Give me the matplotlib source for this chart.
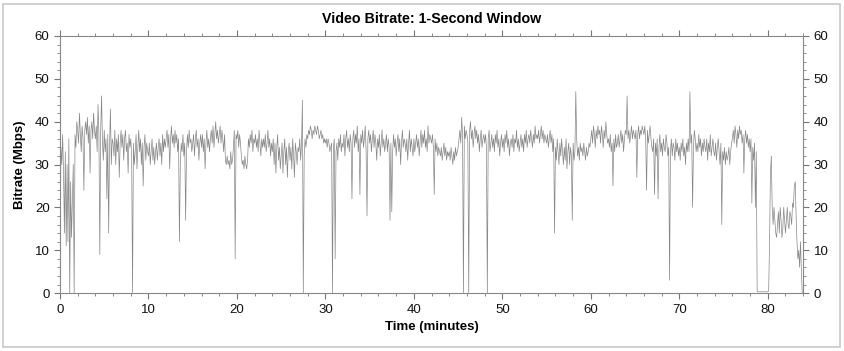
import numpy as np
import matplotlib.pyplot as plt
from matplotlib.patches import Rectangle
from matplotlib.ticker import MultipleLocator

plt.rcParams['font.family'] = ['Liberation Sans', 'DejaVu Sans']

# bitrate (Mbps), one row per minute, 0.1 min steps
bitrate_rows = [
    [2, 34, 30, 37, 28, 14, 33, 11, 30, 12],
    [36, 0, 26, 13, 22, 30, 0, 37, 34, 40],
    [38, 35, 42, 37, 33, 39, 36, 24, 38, 40],
    [37, 41, 35, 39, 28, 38, 40, 36, 42, 38],
    [36, 39, 33, 44, 37, 9, 38, 46, 35, 31],
    [38, 33, 36, 22, 37, 14, 34, 43, 30, 36],
    [35, 32, 38, 30, 36, 33, 37, 27, 35, 38],
    [34, 37, 31, 36, 38, 33, 35, 28, 37, 34],
    [36, 32, 0, 35, 30, 33, 37, 29, 34, 38],
    [33, 36, 30, 35, 25, 34, 37, 31, 35, 33],
    [32, 35, 30, 33, 36, 31, 34, 30, 33, 35],
    [31, 34, 36, 32, 35, 30, 37, 33, 36, 34],
    [36, 38, 34, 37, 29, 36, 39, 35, 37, 34],
    [38, 35, 37, 33, 36, 12, 30, 35, 33, 37],
    [32, 35, 17, 33, 37, 34, 38, 35, 36, 33],
    [35, 37, 32, 36, 38, 34, 36, 31, 35, 37],
    [34, 37, 33, 36, 29, 35, 38, 34, 36, 33],
    [36, 38, 35, 39, 34, 37, 40, 36, 38, 35],
    [37, 39, 35, 38, 36, 33, 37, 31, 30, 32],
    [30, 31, 29, 33, 30, 31, 34, 38, 8, 37],
    [36, 38, 34, 37, 35, 32, 30, 31, 29, 32],
    [30, 29, 31, 36, 34, 37, 35, 38, 33, 36],
    [35, 37, 34, 36, 33, 38, 35, 32, 36, 34],
    [36, 34, 37, 33, 35, 38, 34, 36, 32, 35],
    [33, 36, 30, 35, 28, 34, 37, 31, 34, 29],
    [32, 35, 28, 33, 36, 30, 34, 27, 33, 35],
    [31, 34, 29, 36, 32, 27, 35, 33, 30, 34],
    [33, 36, 31, 35, 45, 0, 32, 36, 34, 37],
    [36, 38, 37, 39, 38, 36, 38, 37, 39, 38],
    [37, 39, 38, 36, 37, 38, 36, 37, 35, 36],
    [35, 36, 34, 36, 35, 33, 34, 35, 0, 34],
    [36, 8, 33, 35, 31, 36, 34, 37, 33, 35],
    [34, 37, 32, 36, 38, 34, 36, 33, 37, 35],
    [22, 36, 38, 34, 37, 35, 39, 33, 36, 23],
    [37, 35, 38, 34, 36, 39, 33, 18, 36, 38],
    [35, 37, 33, 36, 38, 34, 37, 35, 31, 36],
    [34, 37, 32, 35, 38, 34, 36, 33, 35, 37],
    [33, 36, 34, 17, 35, 19, 33, 37, 34, 36],
    [32, 35, 37, 33, 36, 30, 35, 38, 34, 36],
    [35, 33, 36, 31, 35, 38, 33, 36, 34, 32],
    [36, 33, 35, 37, 34, 36, 32, 35, 38, 34],
    [37, 35, 38, 34, 36, 33, 39, 35, 37, 36],
    [35, 37, 34, 23, 36, 33, 35, 32, 34, 33],
    [32, 34, 31, 33, 35, 32, 34, 31, 33, 32],
    [33, 31, 34, 32, 30, 33, 31, 34, 32, 33],
    [34, 36, 38, 35, 41, 37, 0, 39, 36, 38],
    [37, 35, 0, 38, 40, 36, 38, 34, 37, 39],
    [36, 38, 35, 37, 33, 36, 38, 34, 36, 37],
    [35, 37, 34, 0, 36, 38, 33, 35, 37, 34],
    [36, 33, 37, 35, 38, 34, 36, 32, 35, 37],
    [34, 36, 33, 37, 35, 38, 34, 36, 32, 35],
    [36, 34, 37, 33, 36, 35, 38, 34, 36, 33],
    [35, 37, 34, 36, 33, 37, 35, 38, 34, 36],
    [37, 35, 38, 36, 34, 37, 35, 39, 36, 37],
    [36, 38, 35, 37, 39, 36, 38, 35, 37, 36],
    [35, 37, 34, 36, 38, 35, 37, 33, 36, 14],
    [34, 31, 36, 33, 30, 35, 32, 36, 33, 30],
    [34, 31, 36, 29, 33, 35, 30, 34, 32, 17],
    [35, 31, 33, 47, 36, 32, 34, 31, 35, 33],
    [34, 32, 35, 33, 31, 34, 32, 33, 35, 34],
    [36, 38, 35, 39, 37, 34, 38, 36, 39, 37],
    [38, 35, 39, 37, 34, 38, 36, 40, 37, 35],
    [36, 34, 37, 33, 35, 25, 36, 33, 37, 34],
    [35, 37, 34, 36, 38, 35, 37, 33, 36, 38],
    [37, 46, 36, 38, 35, 37, 39, 36, 38, 37],
    [36, 38, 27, 37, 39, 36, 38, 37, 39, 38],
    [37, 39, 36, 24, 38, 35, 37, 39, 36, 34],
    [33, 36, 23, 35, 32, 36, 22, 34, 37, 33],
    [35, 32, 36, 34, 33, 37, 35, 32, 34, 3],
    [33, 36, 32, 35, 34, 31, 36, 33, 35, 32],
    [34, 31, 35, 33, 36, 32, 34, 30, 35, 33],
    [36, 33, 47, 35, 37, 20, 34, 38, 36, 33],
    [35, 33, 37, 34, 36, 32, 35, 33, 36, 34],
    [33, 36, 31, 35, 33, 37, 32, 34, 36, 33],
    [32, 35, 31, 34, 36, 33, 30, 35, 16, 33],
    [31, 34, 30, 33, 31, 32, 34, 30, 33, 35],
    [36, 38, 35, 39, 37, 34, 38, 36, 39, 37],
    [38, 35, 37, 28, 36, 38, 35, 37, 34, 36],
    [33, 36, 21, 34, 31, 35, 20, 33, 0.3, 0.3],
    [0.3, 0.3, 0.3, 0.3, 0.3, 0.3, 0.3, 0.3, 0.3, 0.3],
    [0.3, 0.5, 12, 28, 32, 20, 16, 20, 17, 14],
    [13, 16, 19, 14, 20, 17, 13, 15, 20, 17],
    [14, 17, 20, 16, 15, 19, 18, 16, 21, 20],
    [25, 26, 18, 12, 8, 10, 6, 12, 5, 0],
]

bitrate = np.array(bitrate_rows, dtype=float).ravel()
minutes = np.arange(len(bitrate)) * 0.1

fig = plt.figure(figsize=(8.45, 3.51), dpi=100)
ax = fig.add_axes([0.071, 0.165, 0.8795, 0.7325])

ax.plot(minutes, bitrate, color='#878787', lw=0.5)

ax.set_xlim(0, 84)
ax.set_ylim(0, 60)
ax.xaxis.set_major_locator(MultipleLocator(10))
ax.xaxis.set_minor_locator(MultipleLocator(2))
ax.yaxis.set_major_locator(MultipleLocator(10))
ax.yaxis.set_minor_locator(MultipleLocator(2))
ax.tick_params(which='both', direction='out', colors='#777777', labelcolor='#111111',
               top=True, right=True, labelright=True, labelsize=9.5)
ax.tick_params(which='major', length=4, width=0.8)
ax.tick_params(which='minor', length=2.5, width=0.6)
for sp in ax.spines.values():
    sp.set_color('#888888')
    sp.set_linewidth(0.8)

ax.set_title('Video Bitrate: 1-Second Window', fontsize=10.3, fontweight='bold', pad=9)
ax.set_xlabel('Time (minutes)', fontsize=9.5, fontweight='bold', labelpad=4)
ax.set_ylabel('Bitrate (Mbps)', fontsize=9.5, fontweight='bold', labelpad=6)

# light frame around the whole picture
fig.patches.append(Rectangle((0.004, 0.012), 0.99, 0.978, transform=fig.transFigure,
                             fill=False, edgecolor='#c8c8c8', lw=1.2))

fig.savefig('out.png', dpi=100)
